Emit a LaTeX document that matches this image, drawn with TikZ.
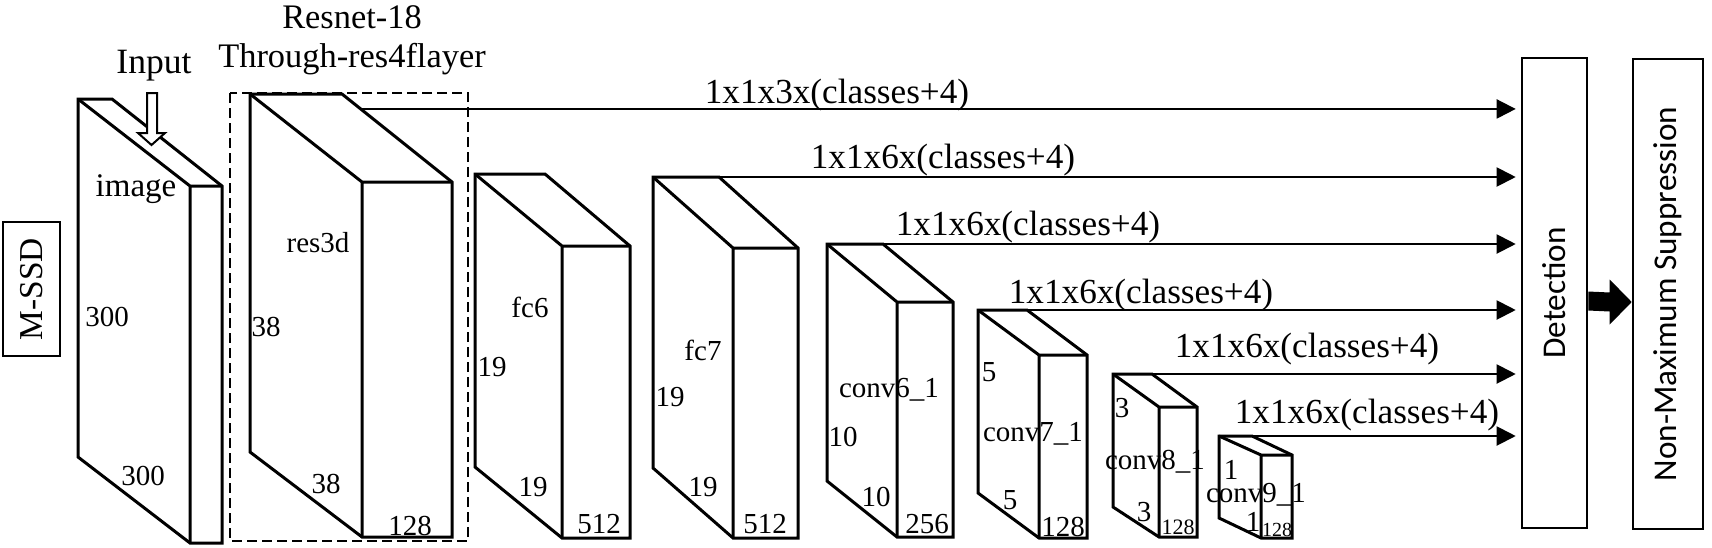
\documentclass[tikz,border=0pt]{standalone}
\usepackage{fontspec}
\setmainfont{Liberation Serif}
\newfontfamily\calfont{Carlito}
\usetikzlibrary{arrows.meta,calc}
\begin{document}
\begin{tikzpicture}[x=0.5pt, y=-0.5pt,
	blk/.style={line width=1.5pt},
	num/.style={inner sep=0pt, font=\fontsize{14.5}{16}\selectfont},
	outlbl/.style={inner sep=0pt, anchor=base, font=\fontsize{17.6}{19}\selectfont},
	arr/.style={line width=1pt, -{Triangle[length=9.5pt,width=9.5pt]}, shorten >=2.5pt},
	tall/.style={draw, line width=1.3pt, rotate=90, minimum width=235pt, inner sep=0pt, font=\calfont\fontsize{16.6}{18}\selectfont}]
	\useasboundingbox (0,0) rectangle (1712,547);

	\node[draw, line width=1.3pt, rotate=90, minimum width=67pt, minimum height=28.5pt, inner sep=0pt, font=\fontsize{16.7}{18}\selectfont] (mssd) at (31.5,289) {M-SSD};

	% image
	\draw[blk] (78,99) -- (112,99) -- (222,186) -- (222,543) -- (190,543) -- (78,457) -- cycle;
	\draw[blk] (78,99) -- (190,186) -- (190,543) (190,186) -- (222,186);
	\node[inner sep=0pt, font=\fontsize{16.5}{18}\selectfont] (imgname) at (136,189) {image};
	\node[num] at (107,317) {300};
	\node[num] at (143,476) {300};
	\node[outlbl, font=\fontsize{17.8}{19}\selectfont] (inp) at (154,73) {Input};
	\draw[line width=1pt, fill=white] (147,93) -- (157,93) -- (157,133) -- (165,133) -- (151.5,145) -- (138,133) -- (147,133) -- cycle;

	% res3d
	\draw[dashed, dash pattern=on 5pt off 2.5pt, line width=1.2pt] (230,93) rectangle (468,541);
	\node[outlbl, font=\fontsize{17.2}{19}\selectfont] (resnet) at (352,28) {Resnet-18};
	\node[outlbl, font=\fontsize{17.2}{19}\selectfont] (through) at (352,67) {Through-res4flayer};
	\draw[blk] (250,94) -- (342,94) coordinate (restr) -- (452,182) coordinate (resftr) -- (452,537) -- (362,537) -- (250,452) -- cycle;
	\draw[blk] (250,94) -- (362,182) -- (362,537) (362,182) -- (452,182);
	\node[num] at (318,243) {res3d};
	\node[num] at (266,327) {38};
	\node[num] at (326,484) {38};
	\node[num] at (410,526) {128};

	% fc6
	\draw[blk] (475,174) -- (545,174) -- (630,246) -- (630,538) -- (562,538) -- (475,467) -- cycle;
	\draw[blk] (475,174) -- (562,246) -- (562,538) (562,246) -- (630,246);
	\node[num] at (530,307) {fc6};
	\node[num] at (492,367) {19};
	\node[num] at (533,487) {19};
	\node[num] at (599,524) {512};

	% fc7
	\draw[blk] (653,177) -- (719,177) coordinate (fcstr) -- (798,248) -- (798,538) -- (733,538) -- (653,468) -- cycle;
	\draw[blk] (653,177) -- (733,248) -- (733,538) (733,248) -- (798,248);
	\node[num] at (703,350) {fc7};
	\node[num] at (670,397) {19};
	\node[num] at (703,487) {19};
	\node[num] at (765,524) {512};

	% conv6_1
	\draw[blk] (827,244) -- (883,244) coordinate (csixtr) -- (953,302) -- (953,537) -- (897,537) -- (827,481) -- cycle;
	\draw[blk] (827,244) -- (897,302) -- (897,537) (897,302) -- (953,302);
	\node[num] at (889,390) {conv6\_1};
	\node[num] at (843,437) {10};
	\node[num] at (876,497) {10};
	\node[num] at (927,524) {256};

	% conv7_1
	\draw[blk] (978,310) -- (1027,310) coordinate (csevtr) -- (1087,355) -- (1087,538) -- (1039,538) -- (978,493) -- cycle;
	\draw[blk] (978,310) -- (1039,355) -- (1039,538) (1039,355) -- (1087,355);
	\node[num] at (989,372) {5};
	\node[num] at (1033,434) {conv7\_1};
	\node[num] at (1010,500) {5};
	\node[num] at (1063,527) {128};

	% conv8_1
	\draw[blk] (1113,374) -- (1152,374) coordinate (ceigtr) -- (1197,407) -- (1197,537) -- (1159,537) -- (1113,507) -- cycle;
	\draw[blk] (1113,374) -- (1159,407) -- (1159,537) (1159,407) -- (1197,407);
	\node[num] at (1122,408) {3};
	\node[num] at (1155,462) {conv8\_1};
	\node[num] at (1144,512) {3};
	\node[num, font=\fontsize{11}{12}\selectfont] at (1178,527) {128};

	% conv9_1
	\draw[blk] (1219,436) -- (1252,436) coordinate (cnintr) -- (1292,455) -- (1292,538) -- (1261,538) -- (1219,518) -- cycle;
	\draw[blk] (1219,436) -- (1261,455) -- (1261,538) (1261,455) -- (1292,455);
	\node[num] at (1231,470) {1};
	\node[num] at (1256,495) {conv9\_1};
	\node[num] at (1253,522) {1};
	\node[num, font=\fontsize{10}{11}\selectfont] at (1277,530) {128};

	% detection and nms
	\node[tall, minimum height=32.5pt] (det) at (1554.5,293) {Detection};
	\node[tall, minimum height=35pt] (nms) at (1668,294) {Non-Maximum Suppression};

	\coordinate (resout) at ($(restr)!.17!(resftr)$);
	\draw[arr] (resout) -- (resout -| det.north);
	\draw[arr] (fcstr) -- (fcstr -| det.north);
	\draw[arr] (csixtr) -- (csixtr -| det.north);
	\draw[arr] (csevtr) -- (csevtr -| det.north);
	\draw[arr] (ceigtr) -- (ceigtr -| det.north);
	\draw[arr] (cnintr) -- (cnintr -| det.north);
	\node[outlbl] at (837,103) {1x1x3x(classes+4)};
	\node[outlbl] at (943,168) {1x1x6x(classes+4)};
	\node[outlbl] at (1028,235) {1x1x6x(classes+4)};
	\node[outlbl] at (1141,303) {1x1x6x(classes+4)};
	\node[outlbl] at (1307,357) {1x1x6x(classes+4)};
	\node[outlbl] at (1367,423) {1x1x6x(classes+4)};

	% fat arrow
	\coordinate (fs) at ([yshift=-4pt]det.south);
	\coordinate (fe) at ([yshift=-4pt]nms.north);
	\fill ($(fs)+(0,-9.5)$) -- ($(fe)+(-22,-9.5)$) -- ($(fe)+(-22,-22.5)$) -- (fe) -- ($(fe)+(-22,22.5)$) -- ($(fe)+(-22,9.5)$) -- ($(fs)+(0,9.5)$) -- cycle;
\end{tikzpicture}
\end{document}
